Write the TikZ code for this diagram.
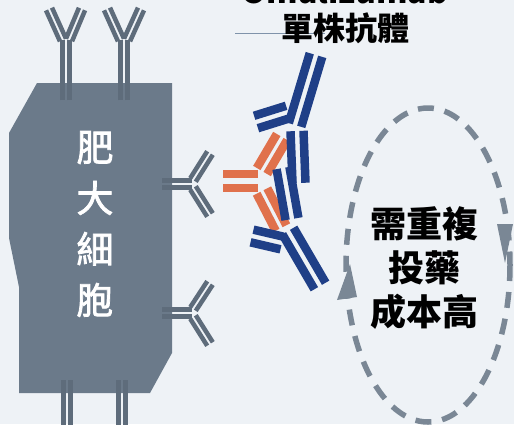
\documentclass[tikz,border=0pt]{standalone}
\usepackage{fontspec}
\usetikzlibrary{calc}
\newfontfamily\cjk{Noto Sans CJK TC}
\newfontfamily\cjkmed[FakeBold=2]{Noto Sans CJK TC}
\definecolor{bg}{HTML}{EEF2F6}
\definecolor{cellc}{HTML}{6B7A8A}
\definecolor{abgray}{HTML}{5E6C7B}
\definecolor{abblue}{HTML}{1F3F87}
\definecolor{aborange}{HTML}{E0714C}
\definecolor{loopc}{HTML}{7A8795}
\definecolor{rulec}{HTML}{7F93AA}

% one antibody segment: two parallel strips around the line (#2)--(#3),
% strip centres #4 away from that line
\newcommand\abseg[4]{%
  \draw[#1] ($(#2)!#4!90:(#3)$) -- ($(#3)!#4!-90:(#2)$);
  \draw[#1] ($(#2)!#4!-90:(#3)$) -- ($(#3)!#4!90:(#2)$);
}

\tikzset{
  graystrip/.style={draw=abgray, line width=4.5pt},
  bluestrip/.style={draw=abblue, line width=8.5pt},
  orangestrip/.style={draw=aborange, line width=8.5pt},
  looppath/.style={draw=loopc, line width=5.5pt, dash pattern=on 16pt off 11pt},
  loophead/.style={fill=loopc},
  celltext/.style={text=white, font=\cjkmed\fontsize{37}{51}\selectfont, align=center},
  notetext/.style={text=black, font=\cjk\bfseries\fontsize{36}{44}\selectfont, align=center},
  titletext/.style={text=black, font=\cjk\bfseries\fontsize{32}{32}\selectfont},
}

\begin{document}
\begin{tikzpicture}[x=1pt,y=-1pt]
  \useasboundingbox (0,0) rectangle (514,424);
  \clip (0,0) rectangle (514,424);
  \fill[bg] (0,0) rectangle (514,424);

  % mast cell body
  \fill[cellc] (37,83) -- (172,83) -- (172,353) -- (150,393) -- (19,393)
    -- (19,287) -- (9,238) -- (9,133) -- cycle;

  % receptor antibodies on the cell surface (top)
  \abseg{graystrip}{66,100}{66,40}{3.3pt}
  \abseg{graystrip}{63,40}{49,9}{3.3pt}
  \abseg{graystrip}{69,40}{82,9}{3.3pt}
  \abseg{graystrip}{124,100}{124,40}{3.3pt}
  \abseg{graystrip}{121,40}{107,9}{3.3pt}
  \abseg{graystrip}{127,40}{141,9}{3.3pt}
  % right side
  \abseg{graystrip}{162,184}{192,184}{3.3pt}
  \abseg{graystrip}{193,180}{210,153}{3.3pt}
  \abseg{graystrip}{193,188}{210,215}{3.3pt}
  \abseg{graystrip}{162,313}{192,313}{3.3pt}
  \abseg{graystrip}{193,309}{210,283}{3.3pt}
  \abseg{graystrip}{193,317}{210,344}{3.3pt}
  % bottom
  \abseg{graystrip}{67,380}{67,430}{3.3pt}
  \abseg{graystrip}{122,380}{122,430}{3.3pt}

  % IgE (orange)
  \abseg{orangestrip}{223,181}{258,181}{6.8pt}
  \abseg{orangestrip}{262,171}{282,137}{6pt}
  \abseg{orangestrip}{262,191}{281,228}{6pt}

  % monoclonal antibodies (blue)
  \abseg{bluestrip}{295,125}{316,55}{6.5pt}
  \abseg{bluestrip}{288,112}{256,122}{6.5pt}
  \abseg{bluestrip}{297,131}{299,183}{6.5pt}
  \abseg{bluestrip}{288,231}{320,286}{6.5pt}
  \abseg{bluestrip}{282,243}{252,236}{6.5pt}
  \abseg{bluestrip}{292,219}{283,168}{6.5pt}

  % repeated-dosing loop
  \draw[looppath] (428,265) ellipse [x radius=82, y radius=157];
  \fill[loophead] (497,224) -- (513,224) -- (505,263) -- cycle;
  \fill[loophead] (337,300) -- (357,297) -- (350,264) -- cycle;

  % labels
  \coordinate (rulestart) at (235,33);
  \coordinate (ruleend) at (325,33);
  \draw[rulec, line width=1pt] (rulestart) -- (ruleend);
  \node[titletext, anchor=base] (drugname) at (345,3) {Omalizumab};
  \node[titletext] (drugclass) at (345,28) {單株抗體};
  \node[celltext] (cellname) at (95,224) {肥\\大\\細\\胞};
  \node[notetext] (note) at (424,268) {需重複\\投藥\\成本高};
\end{tikzpicture}
\end{document}
